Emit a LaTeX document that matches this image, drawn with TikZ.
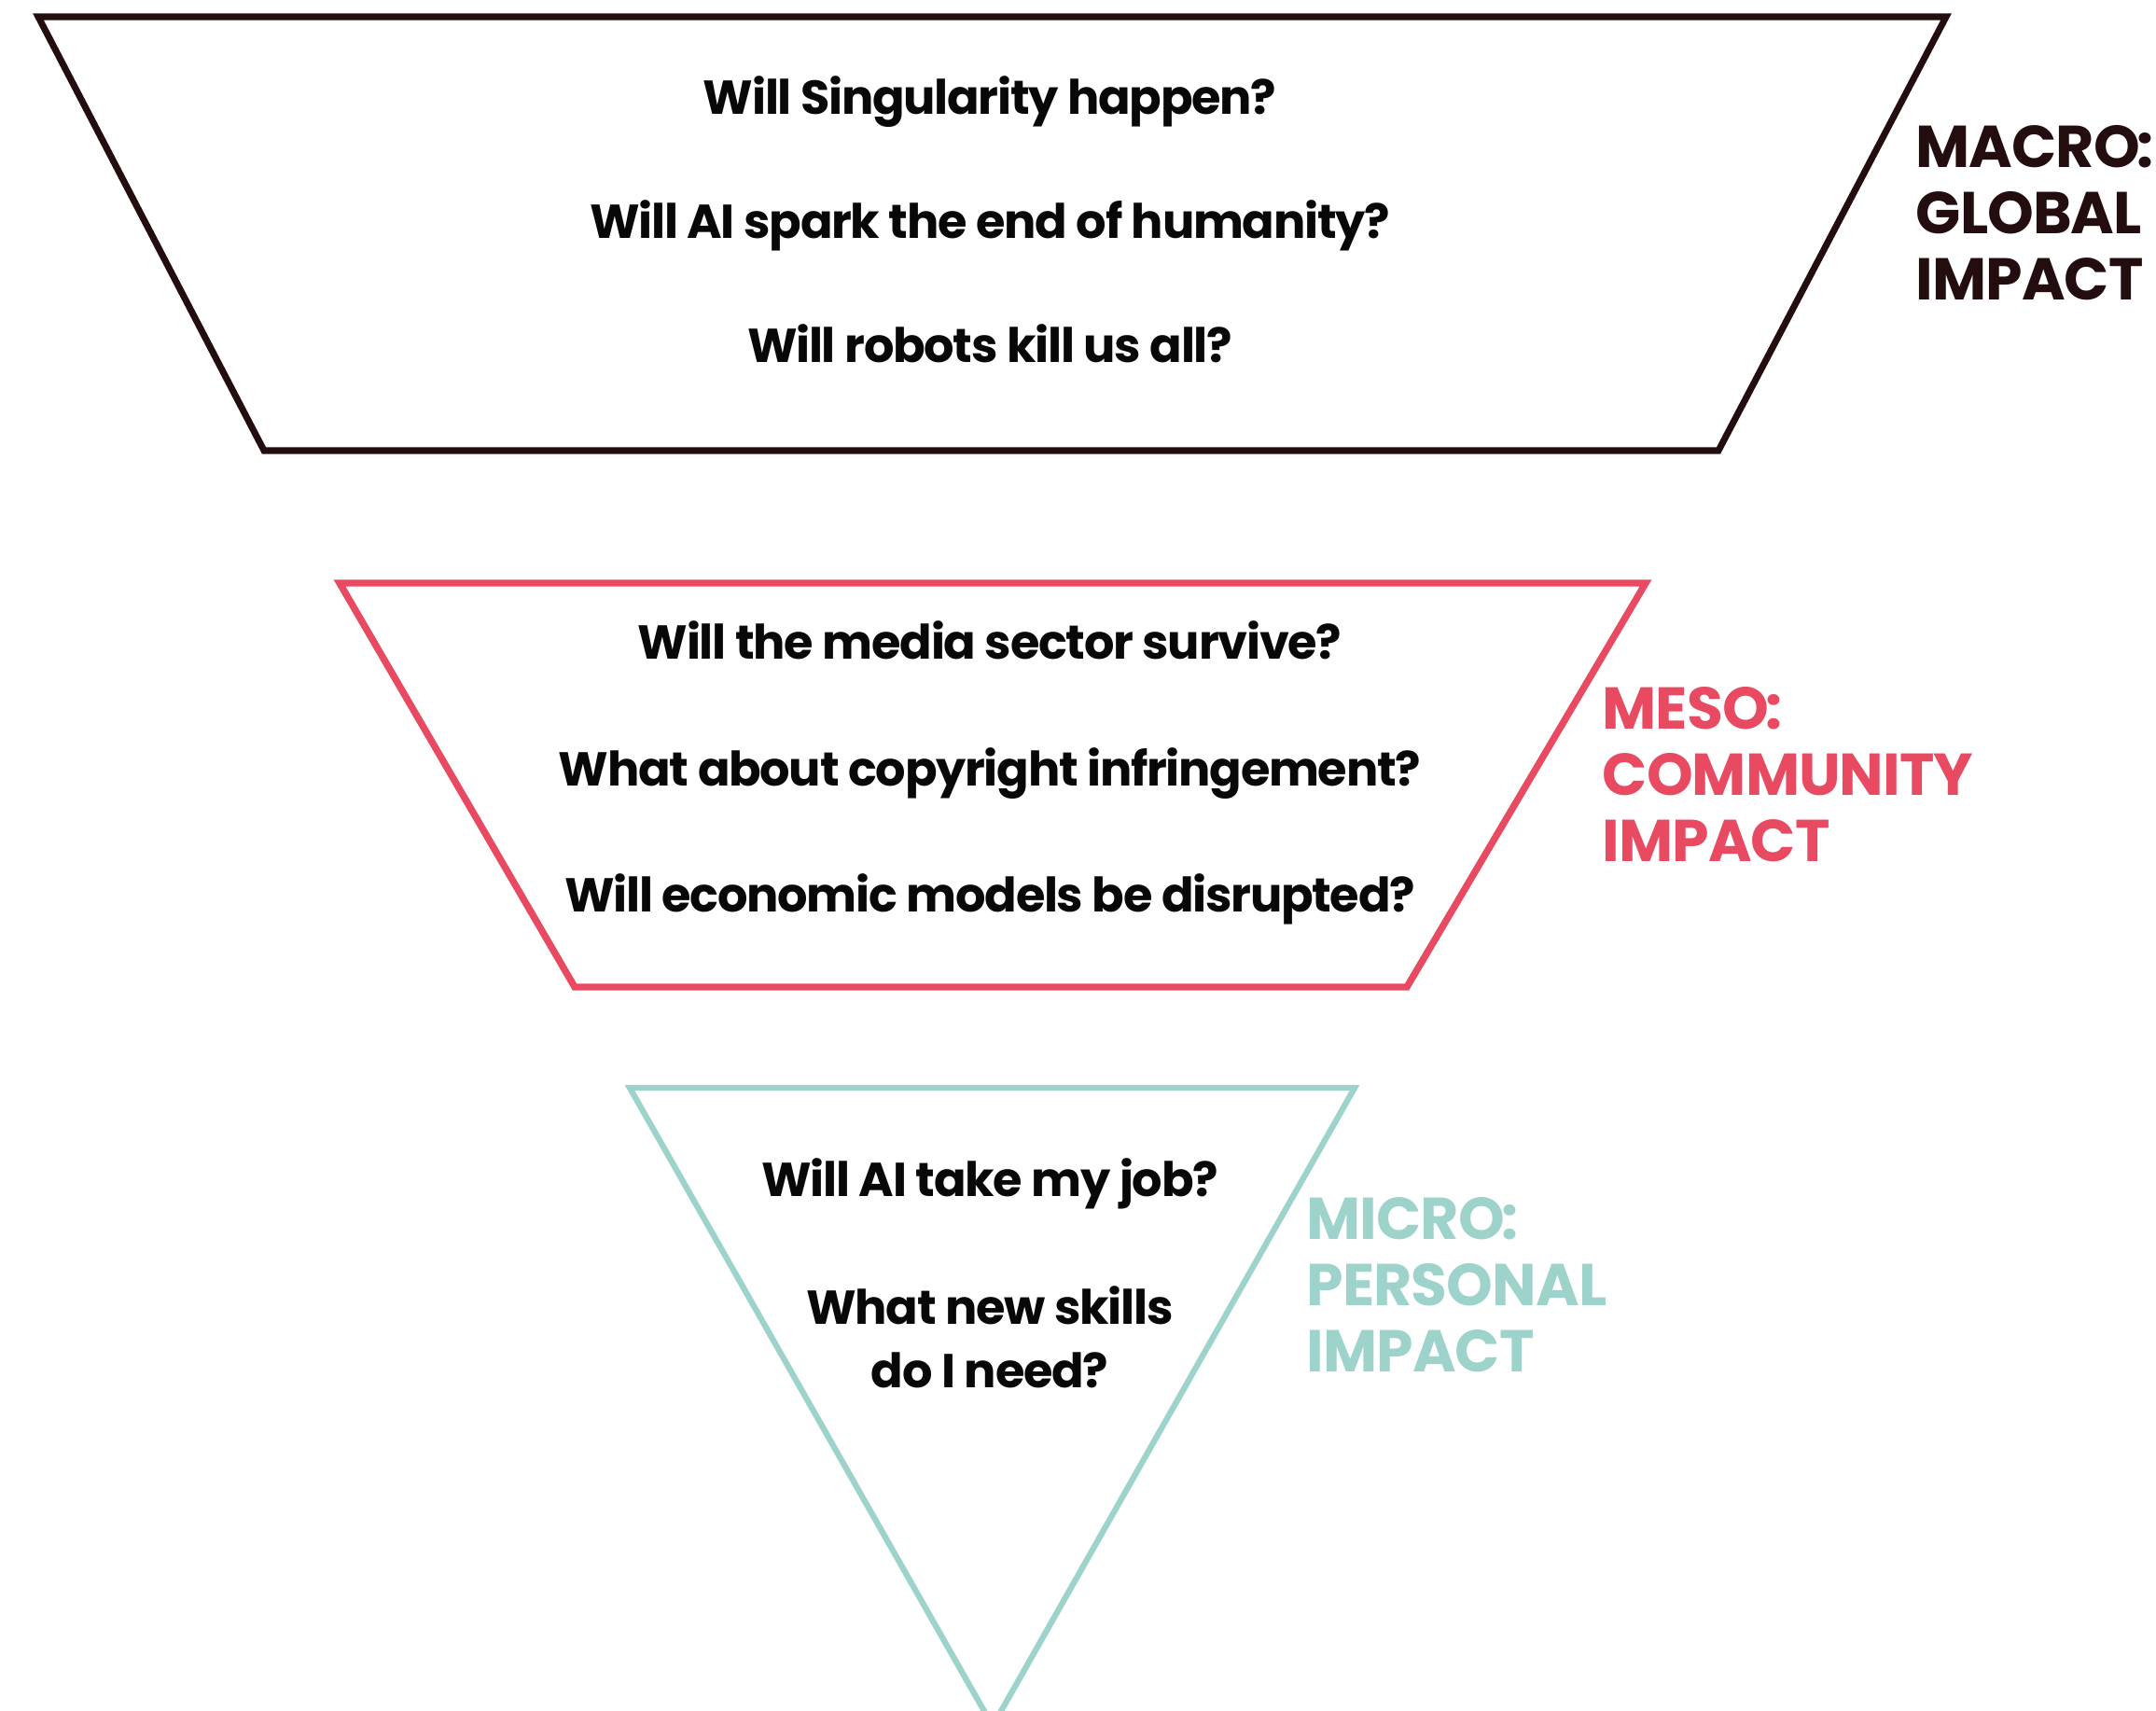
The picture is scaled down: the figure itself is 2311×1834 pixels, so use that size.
\documentclass[tikz,border=0pt]{standalone}
\usepackage{fontspec}
\setmainfont{Poppins}
\newfontfamily\qfont[LetterSpace=-2.5]{Poppins}
\newfontfamily\lvlfont[LetterSpace=-1.5]{Poppins}
\usetikzlibrary{positioning}
\definecolor{macroink}{RGB}{35,13,14}
\definecolor{mesored}{RGB}{232,74,98}
\definecolor{microteal}{RGB}{157,211,202}
\definecolor{qblack}{RGB}{8,8,8}
% tight colon after the level name
\newcommand{\lvlcolon}{\kern-1pt:}

\begin{document}
\begin{tikzpicture}[x=0.01cm,y=-0.01cm,line join=miter]
\tikzstyle{q}=[text=qblack,inner sep=0pt,text height=11pt,text depth=3pt,font=\qfont\fontsize{14.5}{19.3}\selectfont\bfseries]
\tikzstyle{lvl}=[align=left,anchor=west,inner sep=0pt,font=\lvlfont\fontsize{18}{20.2}\selectfont\bfseries]
\useasboundingbox (0,0) rectangle (2311,1834);
% three funnels, widest on top
\draw[macroink,line width=2pt] (41,18) -- (2086,18) -- (1842,483) -- (283,483) -- cycle;
\draw[mesored,line width=2.1pt] (364,625) -- (1764,625) -- (1508,1058) -- (616,1058) -- cycle;
\draw[microteal,line width=1.8pt] (675,1166) -- (1452,1166) -- (1064,1850) -- cycle;
% questions
\node[q](g1) at (1061,108){Will Singularity happen?};
\node[q](g2) at (1061,241){Will AI spark the end of humanity?};
\node[q](g3) at (1061,374){Will robots kill us all?};
\node[q](c1) at (1061,692){Will the media sector survive?};
\node[q](c2) at (1061,828){What about copyright infringement?};
\node[q](c3) at (1061,963){Will economic models be disrupted?};
\node[q](p1) at (1061,1268){Will AI take my job?};
\node[q,align=center,text height=,text depth=](p2) at (1061,1433){What new skills\\do I need?};
% level labels
\node[lvl,text=macroink](macro) at (2053,228){MACRO\lvlcolon\\GLOBAL\\IMPACT};
\node[lvl,text=mesored](meso) at (1717,830){MESO\lvlcolon\\COMMUNITY\\IMPACT};
\node[lvl,text=microteal](micro) at (1400,1377){MICRO\lvlcolon\\PERSONAL\\IMPACT};
\end{tikzpicture}
\end{document}
